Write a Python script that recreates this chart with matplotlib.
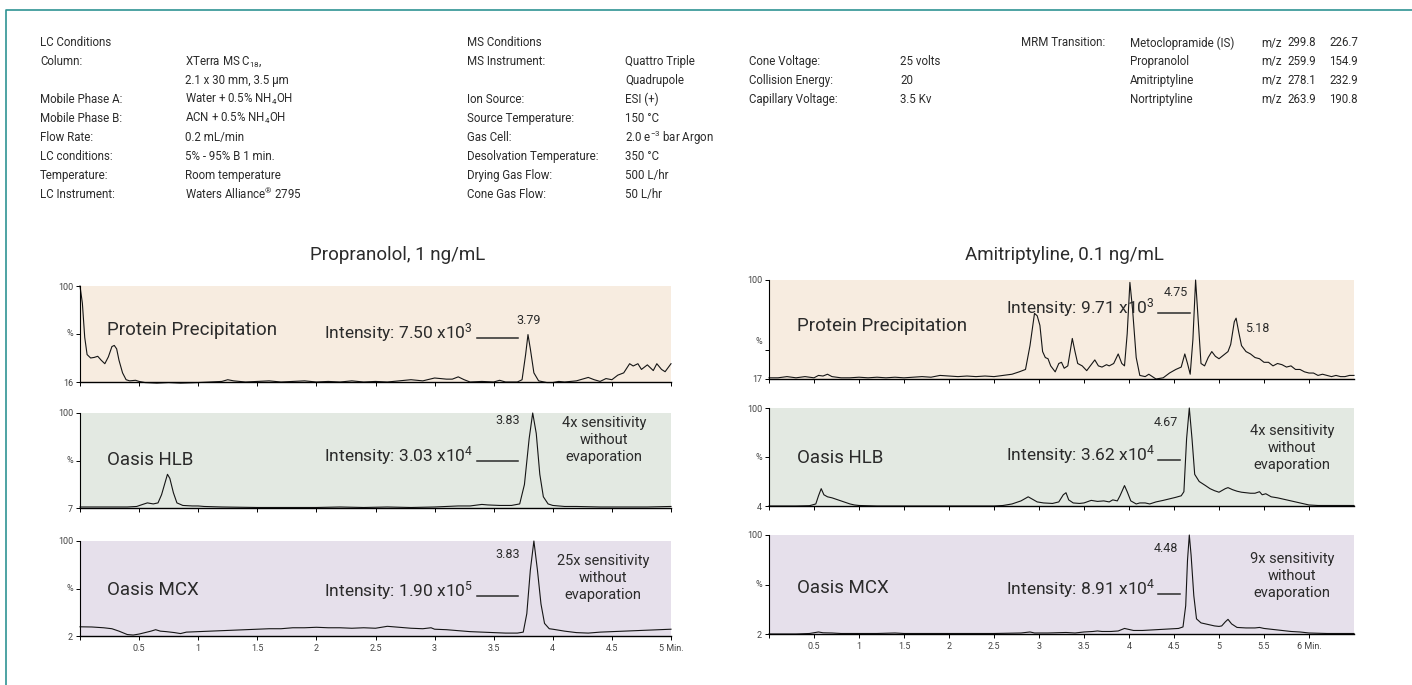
import matplotlib
matplotlib.use("Agg")
import matplotlib.pyplot as plt
from matplotlib.lines import Line2D

plt.rcParams['font.family'] = ['Roboto', 'DejaVu Sans']
plt.rcParams['mathtext.fontset'] = 'custom'
plt.rcParams['mathtext.rm'] = 'Roboto'
plt.rcParams['mathtext.it'] = 'Roboto:italic'
plt.rcParams['mathtext.bf'] = 'Roboto:bold'

# ---------------- data ----------------
# Propranolol, protein precipitation
prop_pp_t = [0.00, 0.02, 0.04, 0.06, 0.09, 0.12, 0.15, 0.18, 0.21, 0.24, 0.27, 0.29,
             0.31, 0.33, 0.36, 0.39, 0.42, 0.47, 0.50, 0.55, 0.65, 0.75, 0.85, 1.00,
             1.10, 1.20, 1.25, 1.30, 1.40, 1.50, 1.60, 1.70, 1.80, 1.90, 2.00, 2.10,
             2.20, 2.30, 2.40, 2.50, 2.60, 2.70, 2.80, 2.90, 3.00, 3.05, 3.10, 3.15,
             3.20, 3.25, 3.30, 3.40, 3.50, 3.55, 3.60, 3.70, 3.74, 3.77, 3.79, 3.81,
             3.84, 3.88, 3.95, 4.00, 4.05, 4.10, 4.20, 4.30, 4.35, 4.40, 4.45, 4.50,
             4.55, 4.60, 4.65, 4.68, 4.72, 4.75, 4.80, 4.85, 4.88, 4.92, 4.95, 5.00]
prop_pp_v = [100, 85, 55, 40, 37, 37.5, 38.5, 35, 32, 38, 47, 48,
             45, 35, 24, 18, 17, 17.5, 16.5, 15.5, 15, 15.5, 15, 15.5,
             16, 16.5, 18, 17, 16, 16.5, 17, 16, 16.5, 17, 16, 16.5,
             16, 17, 16, 16.5, 16, 17, 18, 17, 19.5, 19, 18.5, 18.5,
             20.5, 18, 16, 16.5, 16, 17.5, 16, 16, 18, 40, 57.5, 45,
             24, 17, 15.5, 15.5, 16.5, 16, 17, 20, 18, 16.5, 19, 18,
             22, 24, 32, 30, 32, 27, 31, 26, 32, 27, 25, 32]

# Propranolol, Oasis HLB
prop_hlb_t = [0.00, 0.10, 0.20, 0.30, 0.40, 0.48, 0.53, 0.57, 0.62, 0.66, 0.69, 0.72,
              0.74, 0.76, 0.79, 0.82, 0.87, 0.95, 1.00, 1.05, 1.20, 1.50, 1.80, 2.00,
              2.20, 2.40, 2.60, 2.80, 3.00, 3.10, 3.20, 3.30, 3.40, 3.45, 3.55, 3.65,
              3.72, 3.76, 3.80, 3.83, 3.86, 3.89, 3.92, 3.96, 4.00, 4.10, 4.20, 4.40,
              4.60, 4.80, 5.00]
prop_hlb_v = [8, 8, 8, 8, 8, 8.5, 10.5, 12, 11, 12, 20, 32,
              40, 36, 22, 12, 9.5, 9, 9, 8.5, 8, 7.5, 7.5, 7.5,
              8, 7.5, 8, 7.5, 8, 8.5, 9, 9, 10.5, 10, 9.5, 9.5,
              11, 30, 75, 100, 80, 40, 18, 11, 9.5, 8.5, 8.5, 8,
              8, 8, 8.5]

# Propranolol, Oasis MCX
prop_mcx_t = [0.00, 0.10, 0.20, 0.27, 0.33, 0.40, 0.45, 0.50, 0.55, 0.60, 0.64, 0.68,
              0.73, 0.80, 0.85, 0.90, 1.00, 1.10, 1.20, 1.30, 1.40, 1.50, 1.60, 1.70,
              1.80, 1.90, 2.00, 2.10, 2.20, 2.30, 2.40, 2.50, 2.55, 2.60, 2.70, 2.80,
              2.90, 2.97, 3.00, 3.10, 3.20, 3.30, 3.40, 3.50, 3.60, 3.70, 3.75, 3.78,
              3.81, 3.84, 3.87, 3.90, 3.93, 3.97, 4.00, 4.10, 4.20, 4.30, 4.40, 4.50,
              4.60, 4.70, 4.80, 4.90, 5.00]
prop_mcx_v = [11.5, 11.3, 10.5, 9.5, 7, 3.5, 3, 4, 5.5, 7, 8.5, 7,
              6.5, 5.5, 4.5, 6, 6.5, 7, 7.5, 8, 8.5, 9, 9.5, 9.5,
              10.5, 10.5, 11, 10.5, 10.5, 10, 10.5, 10, 11, 12, 11, 10,
              9.5, 10.5, 9, 8.5, 7.5, 6.5, 6, 5.5, 5, 5, 6, 25,
              70, 100, 70, 35, 15, 9.5, 9, 7, 5.5, 5, 6, 6.5,
              7, 7.5, 8, 8.5, 9]

# Amitriptyline, protein precipitation
ami_pp_t = [0.00, 0.10, 0.20, 0.30, 0.40, 0.50, 0.55, 0.60, 0.65, 0.70, 0.80, 0.90,
            1.00, 1.10, 1.20, 1.30, 1.40, 1.50, 1.60, 1.70, 1.80, 1.90, 2.00, 2.10,
            2.20, 2.30, 2.40, 2.50, 2.60, 2.70, 2.78, 2.85, 2.90, 2.95, 2.98, 3.01,
            3.04, 3.07, 3.10, 3.13, 3.18, 3.22, 3.25, 3.28, 3.32, 3.37, 3.40, 3.43,
            3.48, 3.53, 3.58, 3.62, 3.66, 3.70, 3.75, 3.78, 3.83, 3.88, 3.92, 3.95,
            3.98, 4.01, 4.04, 4.08, 4.12, 4.18, 4.22, 4.26, 4.30, 4.38, 4.45, 4.52,
            4.58, 4.62, 4.65, 4.68, 4.71, 4.74, 4.77, 4.80, 4.84, 4.88, 4.92, 4.96,
            5.00, 5.05, 5.10, 5.13, 5.17, 5.19, 5.22, 5.25, 5.30, 5.35, 5.40, 5.45,
            5.50, 5.55, 5.60, 5.65, 5.70, 5.75, 5.80, 5.85, 5.90, 5.95, 6.00, 6.05,
            6.10, 6.15, 6.20, 6.25, 6.30, 6.35, 6.40, 6.45, 6.50]
ami_pp_v = [18, 18, 19, 18, 19, 18, 20, 19.5, 21, 19, 18, 18,
            18.5, 18, 18.5, 18, 18.5, 18, 18.5, 19, 18.5, 20, 19.5, 19,
            19.5, 19, 19.5, 19, 20, 21, 23, 25, 45, 72, 70, 62,
            40, 35, 34, 28, 23, 30, 31, 26, 28, 51, 40, 30,
            28, 24, 29, 33, 28, 27, 29, 28, 30, 38, 30, 28,
            55, 98, 75, 35, 20, 19, 21, 19, 17, 18, 22, 25,
            27, 38, 30, 21, 50, 100, 65, 30, 28, 35, 40, 36,
            34, 37, 40, 46, 65, 68, 56, 45, 40, 38, 35, 34,
            31, 31, 28, 30, 29, 27, 28, 25, 25, 23, 22, 22,
            20, 21, 20, 19, 20, 19, 19, 20, 20]

# Amitriptyline, Oasis HLB
ami_hlb_t = [0.00, 0.30, 0.45, 0.52, 0.55, 0.58, 0.61, 0.65, 0.70, 0.80, 0.90, 0.95,
             1.00, 1.20, 1.50, 2.00, 2.50, 2.60, 2.70, 2.80, 2.88, 2.92, 2.98, 3.05,
             3.15, 3.22, 3.27, 3.30, 3.33, 3.38, 3.45, 3.50, 3.58, 3.65, 3.72, 3.78,
             3.82, 3.87, 3.90, 3.95, 3.98, 4.02, 4.08, 4.12, 4.18, 4.23, 4.30, 4.38,
             4.45, 4.52, 4.58, 4.61, 4.64, 4.67, 4.70, 4.73, 4.78, 4.85, 4.90, 4.95,
             5.00, 5.03, 5.07, 5.10, 5.15, 5.20, 5.25, 5.30, 5.35, 5.40, 5.45, 5.48,
             5.52, 5.58, 5.65, 5.70, 5.80, 5.90, 6.00, 6.10, 6.20, 6.30, 6.50]
ami_hlb_v = [4, 4, 4.3, 6, 14, 21, 15, 13, 12, 9, 6, 5,
             4.5, 4, 4, 4, 4, 4.5, 6, 9, 13, 11, 8, 7,
             6.5, 8, 15, 17, 10, 7, 6.5, 7, 9.5, 8.5, 9, 8,
             10, 9, 14, 24, 18, 9, 6, 7, 7, 6, 8, 9.5,
             11, 12.5, 14, 18, 70, 100, 70, 35, 28, 24, 21, 19,
             17.5, 19, 21, 22, 20, 18.5, 17.5, 17, 16.5, 16.5, 18, 15,
             16, 13, 12, 11, 9, 7, 5, 4.5, 4.5, 4.5, 4.5]

# Amitriptyline, Oasis MCX
ami_mcx_t = [0.00, 0.30, 0.45, 0.55, 0.60, 0.70, 0.80, 1.00, 1.20, 1.40, 1.50, 2.00,
             2.50, 2.80, 2.90, 2.95, 3.10, 3.30, 3.40, 3.50, 3.60, 3.65, 3.70, 3.80,
             3.88, 3.95, 4.00, 4.05, 4.15, 4.25, 4.35, 4.45, 4.55, 4.60, 4.63, 4.65,
             4.67, 4.69, 4.72, 4.75, 4.80, 4.85, 4.95, 5.00, 5.03, 5.07, 5.10, 5.14,
             5.20, 5.30, 5.40, 5.45, 5.50, 5.60, 5.70, 5.80, 5.90, 6.00, 6.20, 6.50]
ami_mcx_v = [2, 2, 2.5, 4, 3.2, 3, 2.5, 2.5, 2.5, 3, 2.5, 2.5,
             2.5, 3, 4, 3, 3, 3.5, 3, 4, 4.5, 5, 4.5, 4.5,
             5, 7.5, 6.5, 5.5, 5.5, 6, 6.5, 7, 7.5, 9, 30, 75,
             100, 80, 40, 17, 13, 12, 10, 9.5, 10, 14, 16.5, 12,
             8.5, 8, 8, 8.5, 7.5, 6.5, 5.5, 4.5, 4, 3, 2.5, 2.5]

methods = ['Protein Precipitation', 'Oasis HLB', 'Oasis MCX']
prop_baselines = [16, 7, 2]
ami_baselines = [17, 4, 2]
prop_intensity = ['7.50 x10$^3$', '3.03 x10$^4$', '1.90 x10$^5$']
ami_intensity = ['9.71 x10$^3$', '3.62 x10$^4$', '8.91 x10$^4$']
prop_peak_labels = ['3.79', '3.83', '3.83']
ami_peak_labels = ['4.75', '4.67', '4.48']
ami_side_peak = '5.18'
prop_gain = ['', '4x sensitivity\nwithout\nevaporation', '25x sensitivity\nwithout\nevaporation']
ami_gain = ['', '4x sensitivity\nwithout\nevaporation', '9x sensitivity\nwithout\nevaporation']

prop_ticks = [0, 0.5, 1, 1.5, 2, 2.5, 3, 3.5, 4, 4.5, 5]
prop_ticklabels = ['', '0.5', '1', '1.5', '2', '2.5', '3', '3.5', '4', '4.5', '5 Min.']
ami_ticks = [0, 0.5, 1, 1.5, 2, 2.5, 3, 3.5, 4, 4.5, 5, 5.5, 6]
ami_ticklabels = ['', '0.5', '1', '1.5', '2', '2.5', '3', '3.5', '4', '4.5', '5', '5.5', '6 Min.']

lc_labels = ['LC Conditions', 'Column:', '', 'Mobile Phase A:', 'Mobile Phase B:',
             'Flow Rate:', 'LC conditions:', 'Temperature:', 'LC Instrument:']
lc_values = ['', 'XTerra MS C$_{18}$,', '2.1 x 30 mm, 3.5 µm', 'Water + 0.5% NH$_4$OH',
             'ACN + 0.5% NH$_4$OH', '0.2 mL/min', '5% - 95% B 1 min.', 'Room temperature',
             'Waters Alliance$^{®}$ 2795']
ms_labels = ['MS Conditions', 'MS Instrument:', '', 'Ion Source:', 'Source Temperature:',
             'Gas Cell:', 'Desolvation Temperature:', 'Drying Gas Flow:', 'Cone Gas Flow:']
ms_values = ['', 'Quattro Triple', 'Quadrupole', 'ESI (+)', '150 °C',
             '2.0 e$^{-3}$ bar Argon', '350 °C', '500 L/hr', '50 L/hr']
cone_labels = ['', 'Cone Voltage:', 'Collision Energy:', 'Capillary Voltage:']
cone_values = ['', '25 volts', '20', '3.5 Kv']
mrm_names = ['Metoclopramide (IS)', 'Propranolol', 'Amitriptyline', 'Nortriptyline']
mrm_parent = ['299.8', '259.9', '278.1', '263.9']
mrm_daughter = ['226.7', '154.9', '232.9', '190.8']

panel_colors = ['#f7ece0', '#e3e9e2', '#e6e0eb']
ink = '#2b2b2b'

W, H = 1412, 685
fig = plt.figure(figsize=(W / 100, H / 100), dpi=100)


def ptext(px, py, s, **kw):
    """Places text using pixel coordinates of the 1412x685 canvas."""
    kw.setdefault('color', ink)
    return fig.text(px / W, 1 - py / H, s, **kw)


def pline(x0, x1, py, lw=1.1):
    fig.add_artist(Line2D([x0 / W, x1 / W], [1 - py / H, 1 - py / H],
                          color=ink, lw=lw))


def panel(x0, y0, x1, y1, t, v, ymin, xmax, ticks, ticklabels, show, color,
          pct_tick, pct_label):
    ax = fig.add_axes([x0 / W, 1 - y1 / H, (x1 - x0) / W, (y1 - y0) / H])
    ax.set_facecolor(color)
    ax.plot(t, v, color='#151515', lw=0.8, clip_on=False)
    ax.set_xlim(0, xmax)
    ax.set_ylim(ymin, 100)
    ax.spines['top'].set_visible(False)
    ax.spines['right'].set_visible(False)
    ax.spines['left'].set_linewidth(0.8)
    ax.spines['bottom'].set_linewidth(1.0)
    ax.set_yticks([ymin, ymin + pct_tick * (100 - ymin), 100])
    ax.set_yticklabels([str(ymin), '', '100'])
    ax.annotate('%', xy=(0, pct_label), xycoords='axes fraction', xytext=(-5, 0),
                textcoords='offset points', ha='right', va='center',
                fontsize=6.5, color='#444444')
    ax.tick_params(axis='y', length=3, width=0.7, labelsize=6.5, pad=2,
                   labelcolor='#444444')
    ax.set_xticks(ticks)
    ax.set_xticklabels(ticklabels if show else [])
    ax.tick_params(axis='x', length=3, width=0.7, labelsize=6.5, pad=3,
                   labelcolor='#444444')
    return ax


# frame
teal = '#2f9393'
fig.add_artist(Line2D([6 / W, 6 / W, 1], [0, 1 - 10 / H, 1 - 10 / H], color=teal, lw=1.2))

# conditions block
row0, step, fs = 43, 18.9, 8.3
for i, (a, b) in enumerate(zip(lc_labels, lc_values)):
    ptext(40, row0 + i * step, a, fontsize=fs, va='center')
    ptext(185, row0 + i * step, b, fontsize=fs, va='center')
for i, (a, b) in enumerate(zip(ms_labels, ms_values)):
    ptext(467, row0 + i * step, a, fontsize=fs, va='center')
    ptext(625, row0 + i * step, b, fontsize=fs, va='center')
for i, (a, b) in enumerate(zip(cone_labels, cone_values)):
    ptext(749, row0 + i * step, a, fontsize=fs, va='center')
    ptext(900, row0 + i * step, b, fontsize=fs, va='center')
ptext(1021, row0, 'MRM Transition:', fontsize=fs, va='center')
for i in range(len(mrm_names)):
    y = row0 + i * step
    ptext(1130, y, mrm_names[i], fontsize=fs, va='center')
    ptext(1261, y, 'm/z', fontsize=fs, va='center')
    ptext(1287, y, mrm_parent[i], fontsize=fs, va='center')
    ptext(1329, y, mrm_daughter[i], fontsize=fs, va='center')

# titles
ptext(398, 255, 'Propranolol, 1 ng/mL', fontsize=13.5, ha='center', va='center')
ptext(1064, 255, 'Amitriptyline, 0.1 ng/mL', fontsize=13.5, ha='center', va='center')

# left column (propranolol)
left_rows = [(286, 382), (413, 508), (541, 636)]
prop_data = [(prop_pp_t, prop_pp_v), (prop_hlb_t, prop_hlb_v), (prop_mcx_t, prop_mcx_v)]
for i, (y0, y1) in enumerate(left_rows):
    panel(80, y0, 671, y1, prop_data[i][0], prop_data[i][1], prop_baselines[i], 5,
          prop_ticks, prop_ticklabels, i == 2, panel_colors[i], 0.5, 0.5)

# right column (amitriptyline)
right_rows = [(280, 379), (408, 506), (535, 634)]
ami_data = [(ami_pp_t, ami_pp_v), (ami_hlb_t, ami_hlb_v), (ami_mcx_t, ami_mcx_v)]
for i, (y0, y1) in enumerate(right_rows):
    panel(769, y0, 1354, y1, ami_data[i][0], ami_data[i][1], ami_baselines[i], 6.5,
          ami_ticks, ami_ticklabels, i == 2, panel_colors[i],
          0.29 if i == 0 else 0.5, 0.38 if i == 0 else 0.5)

# panel annotations, propranolol
name_y = [330, 460, 590]
base_y = [338, 461, 596]
for i in range(3):
    ptext(107, name_y[i], methods[i], fontsize=13.5, va='center')
    ptext(473, base_y[i], 'Intensity: ' + prop_intensity[i], fontsize=12.5,
          ha='right', va='baseline')
    pline(477, 518, base_y[i])
ptext(529, 320, prop_peak_labels[0], fontsize=9, ha='center', va='center')
ptext(508, 420, prop_peak_labels[1], fontsize=9, ha='center', va='center')
ptext(508, 555, prop_peak_labels[2], fontsize=9, ha='center', va='center')
ptext(604, 440, prop_gain[1], fontsize=10.5, ha='center', va='center', linespacing=1.3)
ptext(603, 578, prop_gain[2], fontsize=10.5, ha='center', va='center', linespacing=1.3)

# panel annotations, amitriptyline
name_y = [326, 458, 588]
base_y = [313, 460, 594]
line_end = [1190, 1180, 1180]
for i in range(3):
    ptext(797, name_y[i], methods[i], fontsize=13.5, va='center')
    ptext(1155, base_y[i], 'Intensity: ' + ami_intensity[i], fontsize=12.5,
          ha='right', va='baseline')
    pline(1158, line_end[i], base_y[i])
ptext(1176, 293, ami_peak_labels[0], fontsize=9, ha='center', va='center')
ptext(1245, 328, ami_side_peak, fontsize=9, ha='left', va='center')
ptext(1166, 422, ami_peak_labels[1], fontsize=9, ha='center', va='center')
ptext(1166, 548, ami_peak_labels[2], fontsize=9, ha='center', va='center')
ptext(1292, 448, ami_gain[1], fontsize=10.5, ha='center', va='center', linespacing=1.3)
ptext(1292, 576, ami_gain[2], fontsize=10.5, ha='center', va='center', linespacing=1.3)

fig.savefig('out.png', dpi=100, facecolor='white')
